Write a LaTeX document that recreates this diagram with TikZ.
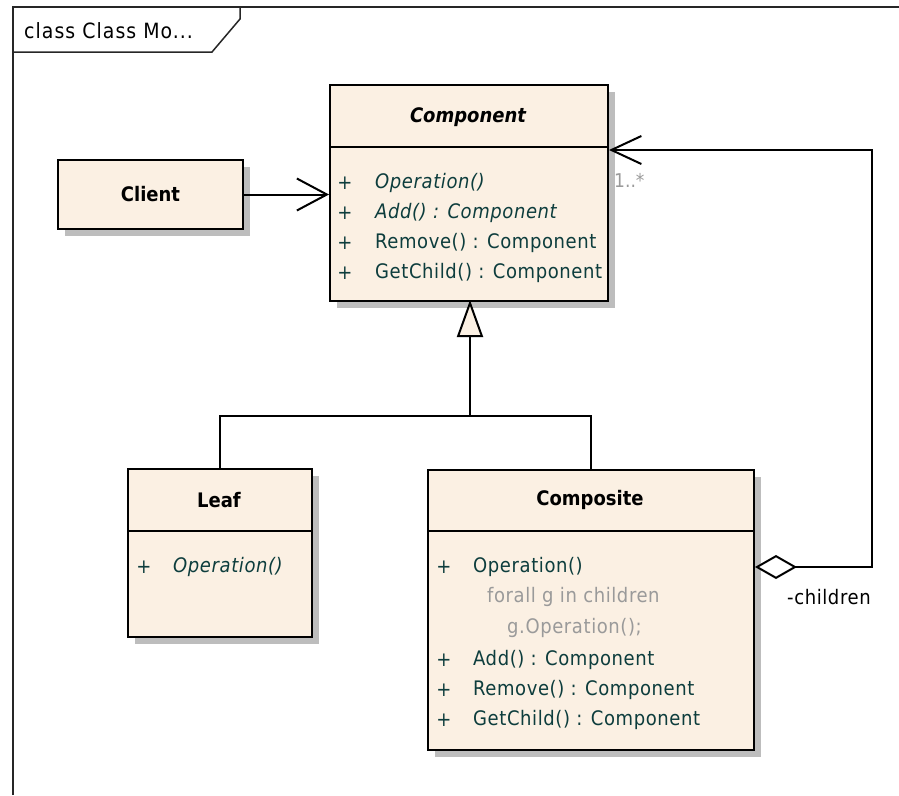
\documentclass[tikz,border=0pt]{standalone}
\usepackage{fontspec}
\newfontfamily\umlfont{DejaVu Sans Condensed}
\newfontfamily\umlfontls[LetterSpace=3]{DejaVu Sans Condensed}
\newfontfamily\umlfonttitle[LetterSpace=5]{DejaVu Sans Condensed}
\usetikzlibrary{arrows.meta,shadows,calc}
\definecolor{umlfill}{HTML}{FBF0E3}
\definecolor{umltext}{HTML}{0D3D3D}
\definecolor{umlgray}{HTML}{9A9A9A}
\definecolor{umlshadow}{HTML}{BDBDBD}
\begin{document}
\begin{tikzpicture}[x=1pt,y=-1pt,
  umlbox/.style={draw=black, line width=2pt, fill=umlfill, anchor=north west, inner sep=0pt,
    drop shadow={shadow xshift=7pt, shadow yshift=-7pt, fill=umlshadow, opacity=1}},
  sep/.style={line width=2pt},
  title/.style={font=\umlfont\fontsize{20}{24}\selectfont\bfseries, text=black},
  meth/.style={font=\umlfontls\fontsize{20}{24}\selectfont, text=umltext, anchor=west, inner sep=0pt},
  imeth/.style={meth, font=\umlfontls\fontsize{20}{24}\selectfont\itshape},
  gmeth/.style={meth, text=umlgray},
  plus/.style={font=\umlfont\fontsize{20}{24}\selectfont, text=umltext, anchor=center, inner sep=0pt},
  conn/.style={line width=2pt, draw=black},
  frame/.style={line width=1.5pt, draw=black!85}
]
\useasboundingbox (0,0) rectangle (899,795);
% frame
\draw[frame] (13,795) -- (13,7) -- (899,7);
\draw[frame] (13,52) -- (212,52) -- (240,19) -- (240,7);
\node[font=\umlfonttitle\fontsize{21}{24}\selectfont, anchor=west, inner sep=0pt] (frametitle) at (24,31) {class Class Mo...};

% Component
\node[umlbox, minimum width=278pt, minimum height=216pt] (comp) at (329,84) {};
\draw[sep] (329,147) -- (607,147);
\node[title, font=\umlfont\fontsize{20}{24}\selectfont\bfseries\itshape] (compt) at (468,117) {Component};
\foreach \y/\t/\s in {183/Operation()/imeth, 213/{Add() : Component}/imeth, 243/{Remove() : Component}/meth, 273/{GetChild() : Component}/meth}{
  \node[plus] at (345,\y) {+};
  \node[\s] at (375,\y) {\t};
}

% Client
\node[umlbox, minimum width=185pt, minimum height=69pt] (client) at (57,159) {};
\node[title] (clientt) at (client.center) {Client};

% Leaf
\node[umlbox, minimum width=184pt, minimum height=168pt] (leaf) at (127,468) {};
\draw[sep] (127,531) -- (311,531);
\node[title] (leaft) at (219,500) {Leaf};
\node[plus] (leafp) at (144,567) {+};
\node[imeth] (leafop) at (173,567) {Operation()};

% Composite
\node[umlbox, minimum width=326pt, minimum height=280pt] (compo) at (427,469) {};
\draw[sep] (427,531) -- (753,531);
\node[title] (compot) at (590,500) {Composite};
\foreach \y/\t in {567/Operation(), 660/{Add() : Component}, 690/{Remove() : Component}, 720/{GetChild() : Component}}{
  \node[plus] at (444,\y) {+};
  \node[meth] at (473,\y) {\t};
}
\node[gmeth] (forall) at (487,597) {forall g in children};
\node[gmeth] (gop) at (507,628) {g.Operation();};

% connectors
\draw[conn, -{Straight Barb[length=30pt, width=32pt, line width=2pt]}] (client.east) -- (client.east -| comp.west);

\coordinate (j) at (470,416);
\draw[conn] (leaf.north) |- (j) -| ($(compo.north west)+(164,0)$);
\draw[conn, -{Triangle[open, length=37pt, width=26pt, fill=umlfill, line width=2pt]}] (j) -- (470,300);

\coordinate (aggs) at ($(compo.north east)+(0,98)$);
\coordinate (aggc) at (872,567);
\coordinate (agge) at ($(comp.north east)+(0,66)$);
\draw[conn, {Diamond[open, length=42pt, width=24pt, fill=white, line width=2pt]}-{Straight Barb[length=30pt, width=28pt, line width=2pt]}] (aggs) -- (aggc) |- (agge);
\node[font=\umlfont\fontsize{19}{22}\selectfont, text=umlgray, anchor=west, inner sep=0pt] (mult) at (614,180) {1..*};
\node[font=\umlfontls\fontsize{20}{24}\selectfont, text=black, anchor=west, inner sep=0pt] (role) at (787,597) {-children};
\end{tikzpicture}
\end{document}
